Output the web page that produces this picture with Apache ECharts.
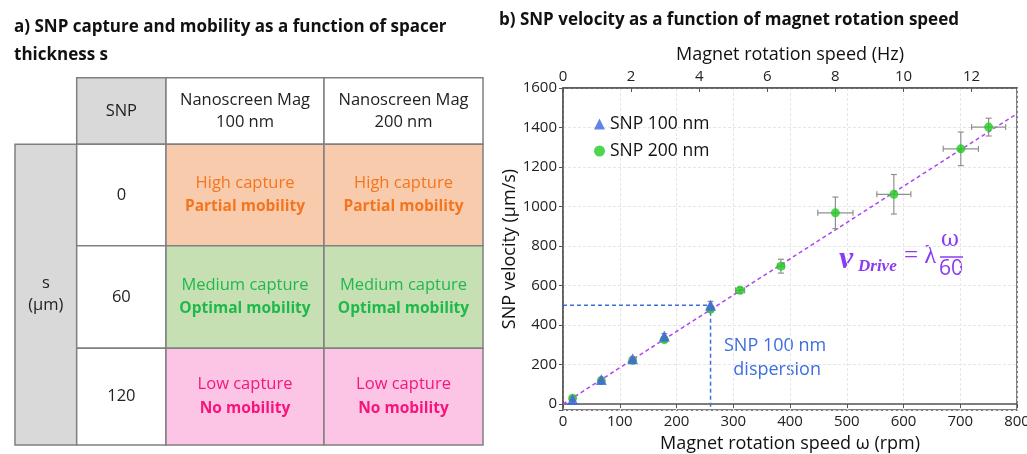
<!DOCTYPE html>
<html><head><meta charset="utf-8">
<script src="https://cdn.jsdelivr.net/npm/echarts@6/dist/echarts.min.js"></script>
<style>html,body{margin:0;padding:0;background:#fff}#c{width:1027px;height:454px}</style>
</head><body><div id="c"></div>
<script>
// ---------- DATA ----------
// Panel b: SNP velocity vs magnet rotation speed
const snp200 = [ // [rpm, velocity µm/s, rpm error, velocity error]
  [17, 30, 3, 8], [67.5, 119, 3, 8], [122.7, 221, 3, 10], [178.5, 326, 3, 12],
  [260, 481, 3, 15], [312, 576, 8, 15], [384, 698, 6, 35],
  [480, 968, 31, 80], [583, 1062, 30, 100], [701, 1292, 31, 85], [750, 1402, 30, 45]
];
const snp100 = [ // [rpm, velocity µm/s, rpm error, velocity error]
  [17, 25, 2, 6], [67.5, 125, 2, 6], [122.7, 230, 2, 8], [178.5, 345, 2, 12], [260, 500, 2, 20]
];
const fitLine = [[0, 0], [800, 1470]];          // v_Drive = λ ω / 60
const dispersionPoint = [260, 500];             // SNP 100 nm dispersion
const rpmTicks = [0, 100, 200, 300, 400, 500, 600, 700, 800];
const hzTicks = [0, 2, 4, 6, 8, 10, 12];
const velocityTicks = [0, 200, 400, 600, 800, 1000, 1200, 1400, 1600];

// Panel a: table
const headerLabels = ['SNP', 'Nanoscreen Mag\n100 nm', 'Nanoscreen Mag\n200 nm'];
const rowAxisLabel = 's\n(µm)';
const spacerValues = ['0', '60', '120'];
const captureLabels = ['High capture', 'Medium capture', 'Low capture'];
const mobilityLabels = ['Partial mobility', 'Optimal mobility', 'No mobility'];

// ---------- LAYOUT / STYLE ----------
const FONT = 'Open Sans';
const colEdges = [0, 61.7, 151, 309, 468];
const rowEdges = [0, 66.6, 168, 270.6, 367.3];
const rowFill = ['#f8cbad', '#c6e0b4', '#fcc5e5'];
const rowText = ['#f5751f', '#1fb84c', '#f7157a'];
const GRAY = '#d9d9d9', BORDER = '#808080';

const cells = [];
cells.push({c0: 1, c1: 2, r0: 0, r1: 1, fill: GRAY, text: headerLabels[0], color: '#222'});
cells.push({c0: 2, c1: 3, r0: 0, r1: 1, fill: '#fff', text: headerLabels[1], color: '#222'});
cells.push({c0: 3, c1: 4, r0: 0, r1: 1, fill: '#fff', text: headerLabels[2], color: '#222'});
cells.push({c0: 0, c1: 1, r0: 1, r1: 4, fill: GRAY, text: rowAxisLabel, color: '#222'});
spacerValues.forEach((v, i) => {
  cells.push({c0: 1, c1: 2, r0: i + 1, r1: i + 2, fill: '#fff', text: v, color: '#222'});
  for (let k = 0; k < 2; k++) {
    cells.push({c0: 2 + k, c1: 3 + k, r0: i + 1, r1: i + 2, fill: rowFill[i],
      rich: [captureLabels[i], mobilityLabels[i]], color: rowText[i]});
  }
});
const cellData = cells.map(c => [colEdges[c.c0], rowEdges[c.r0], colEdges[c.c1], rowEdges[c.r1]]);

function errorBarItem(params, api) {
  const x = api.value(0), y = api.value(1), xe = api.value(2), ye = api.value(3);
  const l = api.coord([x - xe, y]), r = api.coord([x + xe, y]);
  const t = api.coord([x, y + ye]), b = api.coord([x, y - ye]);
  const cap = 3;
  const st = {stroke: '#909090', lineWidth: 1.2};
  return {type: 'group', children: [
    {type: 'line', shape: {x1: l[0], y1: l[1], x2: r[0], y2: r[1]}, style: st},
    {type: 'line', shape: {x1: l[0], y1: l[1] - cap, x2: l[0], y2: l[1] + cap}, style: st},
    {type: 'line', shape: {x1: r[0], y1: r[1] - cap, x2: r[0], y2: r[1] + cap}, style: st},
    {type: 'line', shape: {x1: t[0], y1: t[1], x2: b[0], y2: b[1]}, style: st},
    {type: 'line', shape: {x1: t[0] - cap, y1: t[1], x2: t[0] + cap, y2: t[1]}, style: st},
    {type: 'line', shape: {x1: b[0] - cap, y1: b[1], x2: b[0] + cap, y2: b[1]}, style: st}
  ]};
}

function tableItem(params, api) {
  const c = cells[params.dataIndex];
  const p0 = api.coord([api.value(0), api.value(1)]);
  const p1 = api.coord([api.value(2), api.value(3)]);
  const textConf = c.rich ? {
    text: '{a|' + c.rich[0] + '}\n{b|' + c.rich[1] + '}',
    rich: {
      a: {fontFamily: FONT, fontSize: 16.5, fill: c.color, lineHeight: 24},
      b: {fontFamily: FONT, fontSize: 15.5, fontWeight: 'bold', fill: c.color, lineHeight: 24}
    }
  } : {text: c.text, fontFamily: FONT, fontSize: 16.5, fill: c.color, lineHeight: 22};
  return {
    type: 'rect',
    shape: {x: p0[0], y: p0[1], width: p1[0] - p0[0], height: p1[1] - p0[1]},
    style: {fill: c.fill, stroke: BORDER, lineWidth: 1.5},
    textContent: {style: Object.assign({align: 'center', verticalAlign: 'middle'}, textConf)},
    textConfig: {position: 'inside'}
  };
}

const chart = echarts.init(document.getElementById('c'));
const PURPLE = '#8a3cf0';
chart.setOption({
  animation: false,
  textStyle: {fontFamily: FONT},
  title: [
    {text: 'a) SNP capture and mobility as a function of spacer\nthickness s', left: 9, top: 8,
      textStyle: {fontFamily: FONT, fontSize: 17, fontWeight: 'bold', color: '#111', lineHeight: 28}},
    {text: 'b) SNP velocity as a function of magnet rotation speed', left: 494, top: 7,
      textStyle: {fontFamily: FONT, fontSize: 17, fontWeight: 'bold', color: '#111'}}
  ],
  legend: {
    data: [{name: 'SNP 100 nm', icon: 'triangle'}, {name: 'SNP 200 nm', icon: 'circle'}],
    orient: 'vertical', left: 589, top: 110, itemWidth: 11, itemHeight: 11, itemGap: 9,
    textStyle: {fontFamily: FONT, fontSize: 17.5, color: '#111'}
  },
  grid: [
    {left: 563, right: 10, top: 88, bottom: 44, show: true, borderColor: '#555', borderWidth: 1.5,
      containLabel: false, outerBoundsMode: 'none'},
    {left: 15, top: 77.7, width: 468, height: 367.3, containLabel: false, outerBoundsMode: 'none'}
  ],
  xAxis: [
    {type: 'value', gridIndex: 0, min: rpmTicks[0], max: rpmTicks[rpmTicks.length - 1], interval: 100,
      name: 'Magnet rotation speed ω (rpm)', nameLocation: 'middle', nameGap: 25,
      nameTextStyle: {fontFamily: FONT, fontSize: 18, color: '#111'},
      axisLine: {lineStyle: {color: '#555', width: 1.5}},
      axisTick: {show: true, length: 4, lineStyle: {color: '#555'}},
      axisLabel: {fontSize: 15, color: '#222', margin: 4},
      splitLine: {show: true, lineStyle: {color: '#e6e6e6', type: [3, 2]}}},
    {type: 'value', gridIndex: 0, position: 'top', min: hzTicks[0], max: rpmTicks[rpmTicks.length - 1] / 60, interval: 2,
      name: 'Magnet rotation speed (Hz)', nameLocation: 'middle', nameGap: 24,
      nameTextStyle: {fontFamily: FONT, fontSize: 18, color: '#111'},
      axisLine: {lineStyle: {color: '#555', width: 1.5}},
      axisTick: {show: true, inside: true, length: 4, lineStyle: {color: '#555'}},
      axisLabel: {fontSize: 15, color: '#222', margin: 4, showMaxLabel: false},
      splitLine: {show: false}},
    {type: 'value', gridIndex: 1, min: 0, max: colEdges[colEdges.length - 1], show: false}
  ],
  yAxis: [
    {type: 'value', gridIndex: 0, min: -30, max: velocityTicks[velocityTicks.length - 1],
      splitNumber: 8, minInterval: 200, maxInterval: 200,
      name: 'SNP velocity (µm/s)', nameLocation: 'middle', nameGap: 43,
      nameTextStyle: {fontFamily: FONT, fontSize: 18, color: '#111'},
      axisLine: {show: true, lineStyle: {color: '#555', width: 1.5}},
      axisTick: {show: true, length: 4, lineStyle: {color: '#555'}},
      axisLabel: {fontSize: 15, color: '#222', margin: 6,
        formatter: v => (velocityTicks.indexOf(v) >= 0 ? String(v) : '')},
      splitLine: {show: true, lineStyle: {color: '#e6e6e6', type: [3, 2]}}},
    {type: 'value', gridIndex: 1, min: 0, max: rowEdges[rowEdges.length - 1], inverse: true, show: false}
  ],
  series: [
    {type: 'line', xAxisIndex: 0, yAxisIndex: 0, data: fitLine, symbol: 'none', silent: true, z: 2,
      lineStyle: {color: '#b044f0', width: 1.5, type: [4, 3]}},
    {type: 'line', xAxisIndex: 0, yAxisIndex: 0, symbol: 'none', silent: true, z: 2,
      data: [[0, dispersionPoint[1]], dispersionPoint, [dispersionPoint[0], -30]],
      lineStyle: {color: '#3d6ee0', width: 1.5, type: [4, 3]}},
    {type: 'custom', name: 'err200', xAxisIndex: 0, yAxisIndex: 0, data: snp200, renderItem: errorBarItem, z: 3},
    {type: 'scatter', name: 'SNP 200 nm', xAxisIndex: 0, yAxisIndex: 0, data: snp200.map(d => [d[0], d[1]]),
      symbol: 'circle', symbolSize: 9, itemStyle: {color: '#22cc22'}, z: 4},
    {type: 'custom', name: 'err100', xAxisIndex: 0, yAxisIndex: 0, data: snp100, renderItem: errorBarItem, z: 5},
    {type: 'scatter', name: 'SNP 100 nm', xAxisIndex: 0, yAxisIndex: 0, data: snp100.map(d => [d[0], d[1]]),
      symbol: 'triangle', symbolSize: 11, itemStyle: {color: '#3a64e0'}, z: 6},
    {type: 'custom', xAxisIndex: 2, yAxisIndex: 1, data: cellData, renderItem: tableItem, clip: false, silent: true}
  ],
  graphic: [
    {type: 'text', left: 724, top: 334, style: {text: 'SNP 100 nm\n  dispersion', fill: '#3d6ee0',
      font: '18px "Open Sans"', lineHeight: 24}},
    {type: 'text', x: 839, y: 244, style: {text: 'v', fill: PURPLE, font: 'italic bold 32px "Liberation Serif"'}},
    {type: 'text', x: 858, y: 258, style: {text: 'Drive', fill: PURPLE, font: 'italic bold 17px "Liberation Serif"'}},
    {type: 'text', x: 904, y: 244, style: {text: '= λ', fill: PURPLE, font: '25px "Liberation Serif"'}},
    {type: 'text', x: 941, y: 229, style: {text: 'ω', fill: PURPLE, font: '22px "DejaVu Serif"'}},
    {type: 'line', shape: {x1: 940, y1: 257, x2: 963, y2: 257}, style: {stroke: PURPLE, lineWidth: 1.5}},
    {type: 'text', x: 939, y: 259, style: {text: '60', fill: PURPLE, font: '21px "Open Sans"'}}
  ]
});
</script></body></html>
